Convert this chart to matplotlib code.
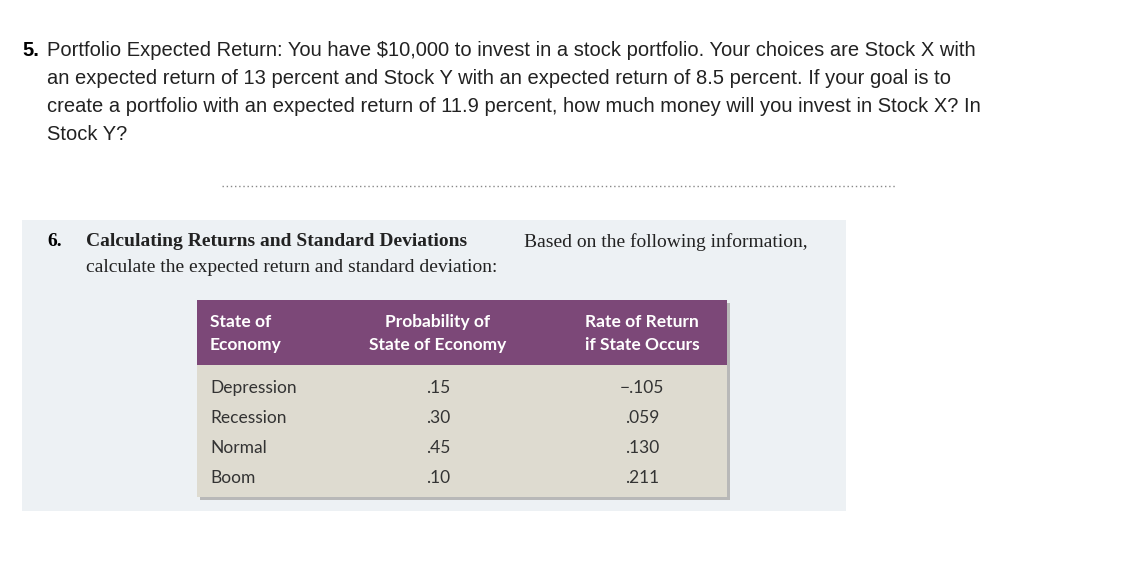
import matplotlib
matplotlib.use("Agg")
import matplotlib.pyplot as plt
from matplotlib.patches import Rectangle

W, H = 1126, 584
q5_lines = [
    "Portfolio Expected Return: You have $10,000 to invest in a stock portfolio. Your choices are Stock X with",
    "an expected return of 13 percent and Stock Y with an expected return of 8.5 percent. If your goal is to",
    "create a portfolio with an expected return of 11.9 percent, how much money will you invest in Stock X? In",
    "Stock Y?",
]
states = ["Depression", "Recession", "Normal", "Boom"]
probs = [".15", ".30", ".45", ".10"]
returns = ["\u2212.105", ".059", ".130", ".211"]
headers = [("State of", "Economy"), ("Probability of", "State of Economy"), ("Rate of Return", "if State Occurs")]

fig = plt.figure(figsize=(W/100, H/100), dpi=100)
ax = fig.add_axes([0, 0, 1, 1])
ax.set_xlim(0, W); ax.set_ylim(H, 0); ax.axis("off")

sans = "Liberation Sans"
ax.text(22, 50, "5.", fontsize=14.5, fontweight="bold", family=sans, va="center")
for i, l in enumerate(q5_lines):
    ax.text(47, 50 + 28*i, l, fontsize=14.5, family=sans, va="center", color="#222")

ax.plot([222, 897], [186, 186], ls=(0, (1, 2)), color="#888", lw=1)

ax.add_patch(Rectangle((22, 220), 824, 291, color="#edf1f4", lw=0))
serif = "Liberation Serif"
ax.text(47, 242, "6.", fontsize=14, fontweight="bold", family=serif, va="center")
t = ax.text(86, 242, "Calculating Returns and Standard Deviations", fontsize=14, fontweight="bold", family=serif, va="center", color="#222")
ax.text(524, 242, "Based on the following information,", fontsize=14, family=serif, va="center", color="#222")
ax.text(86, 267, "calculate the expected return and standard deviation:", fontsize=14, family=serif, va="center", color="#222")

ax.add_patch(Rectangle((200, 303), 530, 197, color="#b8b8b8", lw=0))
ax.add_patch(Rectangle((197, 300), 530, 65, color="#7c4878", lw=0))
ax.add_patch(Rectangle((197, 365), 530, 132, color="#dedbd0", lw=0))

tf = "Lato"
xs = [(210, "left"), (438, "center"), (642, "center")]
for (x, ha), (a, b) in zip(xs, headers):
    ax.text(x, 322, a, fontsize=12.5, fontweight="bold", family=tf, color="white", ha=ha, va="center")
    ax.text(x, 345, b, fontsize=12.5, fontweight="bold", family=tf, color="white", ha=ha, va="center")
for i, (s, p, r) in enumerate(zip(states, probs, returns)):
    y = 388 + 30*i
    ax.text(210, y, s, fontsize=12.5, family=tf, color="#333", va="center")
    ax.text(438, y, p, fontsize=12.5, family=tf, color="#333", ha="center", va="center")
    ax.text(642, y, r, fontsize=12.5, family=tf, color="#333", ha="center", va="center")

fig.savefig("out.png", dpi=100, facecolor="white")
